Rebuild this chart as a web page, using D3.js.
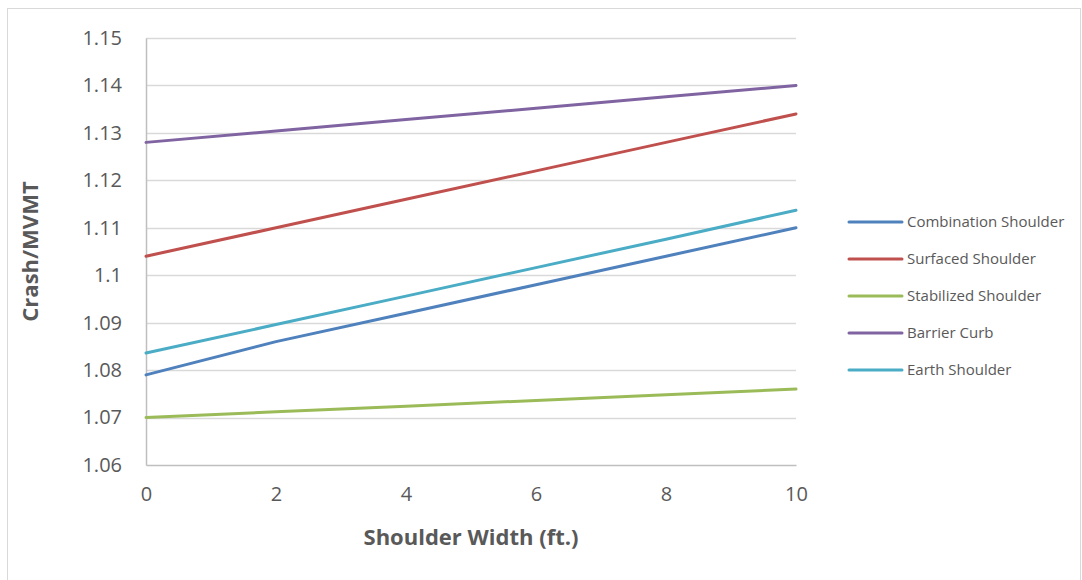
<!DOCTYPE html>
<html>
<head>
<meta charset="utf-8">
<script src="https://cdn.jsdelivr.net/npm/d3@7"></script>
<style>
  html, body { margin: 0; padding: 0; background: #fff; }
  svg { display: block; }
  text { font-family: "Open Sans", "Noto Sans", sans-serif; fill: #595959; }
</style>
</head>
<body>
<svg id="chart" width="1082" height="580"></svg>
<script>
// Shoulder width (ft.) sample points
const widths = [0, 2, 4, 6, 8, 10];

// Crash rate per MVMT by shoulder type
const combinationShoulder = [1.079, 1.086, 1.092, 1.098, 1.104, 1.110];
const surfacedShoulder    = [1.104, 1.110, 1.116, 1.122, 1.128, 1.134];
const stabilizedShoulder  = [1.070, 1.0712, 1.0724, 1.0736, 1.0748, 1.076];
const barrierCurb         = [1.128, 1.1304, 1.1328, 1.1352, 1.1376, 1.140];
const earthShoulder       = [1.0836, 1.0896, 1.0956, 1.1016, 1.1076, 1.1137];

const seriesNames = ["Combination Shoulder", "Surfaced Shoulder", "Stabilized Shoulder", "Barrier Curb", "Earth Shoulder"];
const seriesValues = [combinationShoulder, surfacedShoulder, stabilizedShoulder, barrierCurb, earthShoulder];
const seriesColors = ["#4f81bd", "#c0504d", "#9bbb59", "#8064a2", "#4bacc6"];

const xTicks = [0, 2, 4, 6, 8, 10];
const yTicks = [1.06, 1.07, 1.08, 1.09, 1.10, 1.11, 1.12, 1.13, 1.14, 1.15];

const svg = d3.select("#chart");

// Outer chart frame
svg.append("rect")
  .attr("x", 7.5).attr("y", 8.5)
  .attr("width", 1073).attr("height", 580)
  .attr("fill", "#fff").attr("stroke", "#d9d9d9").attr("stroke-width", 1);

const plot = { left: 146, right: 796, top: 38, bottom: 465 };

const x = d3.scaleLinear().domain([0, 10]).range([plot.left, plot.right]);
const y = d3.scaleLinear().domain([1.06, 1.15]).range([plot.bottom, plot.top]);

// Horizontal gridlines
svg.append("g")
  .selectAll("line")
  .data(yTicks.filter(t => t > 1.06))
  .join("line")
  .attr("x1", plot.left).attr("x2", plot.right)
  .attr("y1", d => Math.round(y(d)) + 0.5).attr("y2", d => Math.round(y(d)) + 0.5)
  .attr("stroke", "#d9d9d9").attr("stroke-width", 1.5);

// Y axis
const yAxis = svg.append("g")
  .attr("transform", `translate(${plot.left},0)`)
  .call(d3.axisLeft(y).tickValues(yTicks).tickSize(0).tickPadding(24)
    .tickFormat(d => d3.format("")(+d.toFixed(2))));
yAxis.select(".domain").attr("stroke", "#bfbfbf").attr("stroke-width", 1.5);
yAxis.selectAll("text")
  .style("font-size", "20px").attr("fill", "#595959")
  .attr("font-family", "'Open Sans', sans-serif");

// X axis
const xAxis = svg.append("g")
  .attr("transform", `translate(0,${plot.bottom})`)
  .call(d3.axisBottom(x).tickValues(xTicks).tickSize(0).tickPadding(22));
xAxis.select(".domain").attr("stroke", "#bfbfbf").attr("stroke-width", 1.5);
xAxis.selectAll("text")
  .style("font-size", "20px").attr("fill", "#595959")
  .attr("font-family", "'Open Sans', sans-serif");

// Series lines
const line = d3.line()
  .x((d, i) => x(widths[i]))
  .y(d => y(d));

svg.append("g")
  .selectAll("path")
  .data(seriesValues)
  .join("path")
  .attr("d", d => line(d))
  .attr("fill", "none")
  .attr("stroke", (d, i) => seriesColors[i])
  .attr("stroke-width", 3)
  .attr("stroke-linecap", "round")
  .attr("stroke-linejoin", "round");

// Axis titles
svg.append("text")
  .attr("x", (plot.left + plot.right) / 2)
  .attr("y", 545)
  .attr("text-anchor", "middle")
  .style("font-size", "22px")
  .style("font-weight", "bold")
  .text("Shoulder Width (ft.)");

svg.append("text")
  .attr("transform", `translate(38,${(plot.top + plot.bottom) / 2}) rotate(-90)`)
  .attr("text-anchor", "middle")
  .style("font-size", "22px")
  .style("font-weight", "bold")
  .text("Crash/MVMT");

// Legend
const legend = svg.append("g").attr("transform", "translate(849,222)");
const items = legend.selectAll("g")
  .data(seriesNames)
  .join("g")
  .attr("transform", (d, i) => `translate(0,${i * 37})`);
items.append("line")
  .attr("x1", 0).attr("x2", 53)
  .attr("y1", 0).attr("y2", 0)
  .attr("stroke", (d, i) => seriesColors[i])
  .attr("stroke-width", 3)
  .attr("stroke-linecap", "round");
items.append("text")
  .attr("x", 58).attr("y", 0)
  .attr("dy", "0.35em")
  .style("font-size", "15px")
  .text(d => d);
</script>
</body>
</html>
